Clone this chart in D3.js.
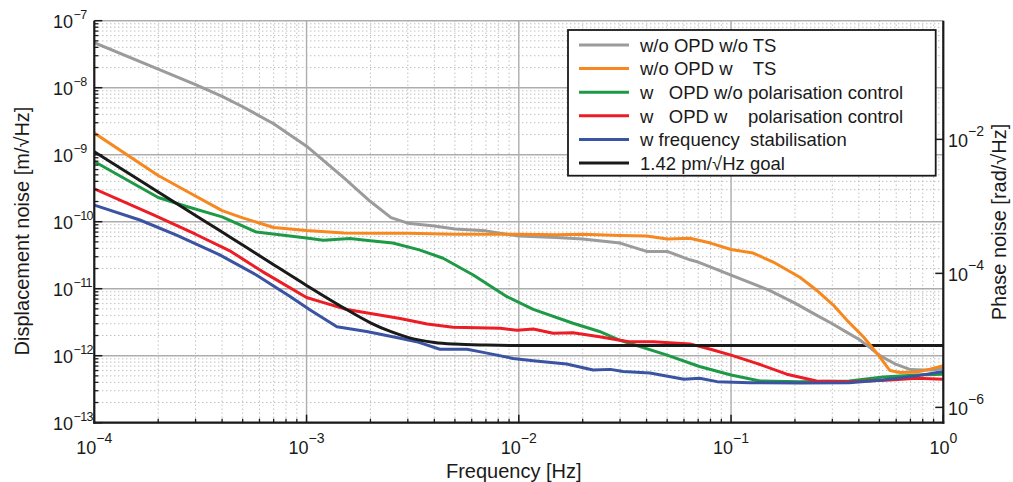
<!DOCTYPE html>
<html>
<head>
<meta charset="utf-8">
<script src="https://cdn.jsdelivr.net/npm/d3@7"></script>
<style>
  body { margin: 0; background: #fff; }
  text { font-family: "Liberation Sans", Arial, Helvetica, sans-serif; fill: #1a1a1a; }
</style>
</head>
<body>
<svg id="chart" width="1013" height="482"></svg>
<script>
// Displacement noise spectra [m/sqrt(Hz)] versus frequency [Hz]
const freqWoOpdWoTs = [1e-4, 2e-4, 3e-4, 4e-4, 5e-4, 7e-4, 1e-3, 1.5e-3, 2e-3, 2.5e-3, 3e-3, 4e-3, 5e-3, 7e-3, 1e-2, 1.5e-2, 2e-2, 3e-2, 4e-2, 5e-2, 6.4e-2, 7e-2, 0.1, 0.15, 0.2, 0.25, 0.3, 0.35, 0.4, 0.45, 0.5, 0.6, 0.7, 0.8, 0.9, 1];
const noiseWoOpdWoTs = [4.7e-8, 1.9e-8, 1.11e-8, 7.4e-9, 5.2e-9, 2.9e-9, 1.34e-9, 4.5e-10, 2.0e-10, 1.15e-10, 9.5e-11, 8.6e-11, 7.8e-11, 7.3e-11, 6.1e-11, 5.8e-11, 5.5e-11, 4.8e-11, 3.6e-11, 3.6e-11, 2.7e-11, 2.5e-11, 1.6e-11, 9.6e-12, 6.1e-12, 4.1e-12, 3.0e-12, 2.25e-12, 1.76e-12, 1.33e-12, 1.01e-12, 7.4e-13, 6.2e-13, 6.1e-13, 6.1e-13, 6.5e-13];

const freqWoOpdWTs = [1e-4, 2e-4, 2.7e-4, 4e-4, 5e-4, 7e-4, 1e-3, 1.5e-3, 2e-3, 3e-3, 5e-3, 1e-2, 1.5e-2, 2e-2, 3e-2, 4e-2, 5e-2, 6.4e-2, 8e-2, 0.1, 0.127, 0.158, 0.211, 0.253, 0.303, 0.351, 0.42, 0.486, 0.561, 0.625, 0.75, 0.866, 1];
const noiseWoOpdWTs = [2.1e-9, 4.9e-10, 2.9e-10, 1.46e-10, 1.14e-10, 8.2e-11, 7.4e-11, 6.8e-11, 6.7e-11, 6.7e-11, 6.5e-11, 6.5e-11, 6.4e-11, 6.5e-11, 6.2e-11, 6.1e-11, 5.5e-11, 5.65e-11, 4.8e-11, 3.85e-11, 3.4e-11, 2.5e-11, 1.48e-11, 9.5e-12, 5.7e-12, 3.4e-12, 1.92e-12, 1.09e-12, 6.0e-13, 5.6e-13, 5.7e-13, 6.3e-13, 7.1e-13];

const freqOpdWoPol = [1e-4, 2e-4, 2.7e-4, 4e-4, 5.8e-4, 7.8e-4, 1e-3, 1.2e-3, 1.6e-3, 2e-3, 2.55e-3, 3.4e-3, 4.4e-3, 6.1e-3, 8.8e-3, 1.17e-2, 1.8e-2, 2.4e-2, 3e-2, 5e-2, 7.1e-2, 0.1, 0.137, 0.21, 0.36, 0.52, 0.75, 1];
const noiseOpdWoPol = [7.9e-10, 2.3e-10, 1.7e-10, 1.18e-10, 7.0e-11, 6.3e-11, 5.7e-11, 5.3e-11, 5.6e-11, 5.2e-11, 4.8e-11, 3.8e-11, 2.85e-11, 1.6e-11, 7.6e-12, 4.9e-12, 3.05e-12, 2.3e-12, 1.7e-12, 1.02e-12, 6.9e-13, 5.15e-13, 4.2e-13, 4.1e-13, 4.2e-13, 4.8e-13, 5.15e-13, 5.3e-13];

const freqOpdWPol = [1e-4, 1.9e-4, 3e-4, 4.4e-4, 6.2e-4, 1e-3, 1.16e-3, 1.55e-3, 2.76e-3, 3.7e-3, 4.9e-3, 8.2e-3, 9.8e-3, 1.17e-2, 1.45e-2, 1.8e-2, 2.4e-2, 3.3e-2, 4.3e-2, 6.4e-2, 8e-2, 0.1, 0.132, 0.183, 0.253, 0.36, 0.56, 0.75, 1];
const noiseOpdWPol = [3.1e-10, 1.26e-10, 6.5e-11, 3.6e-11, 1.8e-11, 7.4e-12, 6.4e-12, 4.9e-12, 3.6e-12, 2.97e-12, 2.65e-12, 2.56e-12, 2.4e-12, 2.5e-12, 2.16e-12, 2.2e-12, 1.92e-12, 1.62e-12, 1.62e-12, 1.5e-12, 1.25e-12, 1.02e-12, 7.7e-13, 5.3e-13, 4.2e-13, 4.1e-13, 4.35e-13, 4.6e-13, 4.45e-13];

const freqFreqStab = [1e-4, 1.64e-4, 2.44e-4, 3.9e-4, 5.8e-4, 8.4e-4, 1.04e-3, 1.39e-3, 1.92e-3, 2.76e-3, 3.3e-3, 4.25e-3, 5.7e-3, 6.8e-3, 9.4e-3, 1.17e-2, 1.68e-2, 2.24e-2, 2.7e-2, 3.1e-2, 4.15e-2, 6e-2, 7.1e-2, 8.6e-2, 0.123, 0.21, 0.36, 0.52, 0.75, 1];
const noiseFreqStab = [1.77e-10, 1.06e-10, 6.3e-11, 3.2e-11, 1.6e-11, 7.6e-12, 4.8e-12, 2.7e-12, 2.3e-12, 1.82e-12, 1.62e-12, 1.25e-12, 1.25e-12, 1.12e-12, 9.1e-13, 8.4e-13, 7.5e-13, 6.1e-13, 6.25e-13, 5.8e-13, 5.5e-13, 4.45e-13, 4.6e-13, 4.1e-13, 3.95e-13, 3.9e-13, 3.95e-13, 4.35e-13, 5.0e-13, 5.8e-13];

const freqGoal = [1e-4, 1.5e-4, 2e-4, 3e-4, 4e-4, 5e-4, 7e-4, 1e-3, 1.5e-3, 2e-3, 2.5e-3, 3e-3, 4e-3, 5e-3, 7e-3, 1e-2, 1];
const noiseGoal = [1.11e-9, 4.95e-10, 2.78e-10, 1.24e-10, 7.0e-11, 4.5e-11, 2.28e-11, 1.12e-11, 5.15e-12, 3.1e-12, 2.28e-12, 1.88e-12, 1.58e-12, 1.49e-12, 1.44e-12, 1.42e-12, 1.42e-12];

const legendLabels = [
  "w/o OPD w/o TS",
  "w/o OPD w    TS",
  "w   OPD w/o polarisation control",
  "w   OPD w    polarisation control",
  "w frequency  stabilisation",
  "1.42 pm/\u221AHz goal"
];
const seriesColors = ["#9b9b9b", "#f7881f", "#1e9a47", "#ec1d25", "#3a53a3", "#1a1a1a"];

const freqTicks = [1e-4, 1e-3, 1e-2, 1e-1, 1];
const dispTicks = [1e-13, 1e-12, 1e-11, 1e-10, 1e-9, 1e-8, 1e-7];
const phaseTicks = [1e-6, 1e-4, 1e-2];
const laserWavelength = 1064e-9; // m, converts displacement to phase

// ---- layout ----
const pLeft = 94.3, pRight = 943.3, pTop = 20.7, pBottom = 422.7;
const svg = d3.select("#chart");

const x = d3.scaleLog().domain([1e-4, 1]).range([pLeft, pRight]);
const y = d3.scaleLog().domain([1e-13, 1e-7]).range([pBottom, pTop]);
const k = 2 * Math.PI / laserWavelength;
const yPhase = d3.scaleLog().domain([1e-13 * k, 1e-7 * k]).range([pBottom, pTop]);

function minorValues(lo, hi) {
  const out = [];
  for (let e = Math.round(Math.log10(lo)); e < Math.round(Math.log10(hi)); e++) {
    for (let m = 2; m <= 9; m++) out.push(m * Math.pow(10, e));
  }
  return out;
}
const xMinor = minorValues(1e-4, 1);
const yMinor = minorValues(1e-13, 1e-7);

// ---- grid ----
const grid = svg.append("g");
grid.selectAll(".vminor").data(xMinor).enter().append("line")
  .attr("x1", d => x(d)).attr("x2", d => x(d)).attr("y1", pTop).attr("y2", pBottom)
  .attr("stroke", "#a3a3a3").attr("stroke-width", 1).attr("stroke-dasharray", "1,3");
grid.selectAll(".hminor").data(yMinor).enter().append("line")
  .attr("x1", pLeft).attr("x2", pRight).attr("y1", d => y(d)).attr("y2", d => y(d))
  .attr("stroke", "#a3a3a3").attr("stroke-width", 1).attr("stroke-dasharray", "1,3");
grid.selectAll(".vmajor").data(freqTicks).enter().append("line")
  .attr("x1", d => x(d)).attr("x2", d => x(d)).attr("y1", pTop).attr("y2", pBottom)
  .attr("stroke", "#adadad").attr("stroke-width", 1.4);
grid.selectAll(".hmajor").data(dispTicks).enter().append("line")
  .attr("x1", pLeft).attr("x2", pRight).attr("y1", d => y(d)).attr("y2", d => y(d))
  .attr("stroke", "#adadad").attr("stroke-width", 1.4);

// ---- curves ----
svg.append("clipPath").attr("id", "plotClip").append("rect")
  .attr("x", pLeft).attr("y", pTop).attr("width", pRight - pLeft).attr("height", pBottom - pTop);

const zip = (f, v) => f.map((d, i) => [d, v[i]]);
const series = [
  zip(freqWoOpdWoTs, noiseWoOpdWoTs),
  zip(freqWoOpdWTs, noiseWoOpdWTs),
  zip(freqOpdWoPol, noiseOpdWoPol),
  zip(freqOpdWPol, noiseOpdWPol),
  zip(freqFreqStab, noiseFreqStab),
  zip(freqGoal, noiseGoal)
];
const lineGen = d3.line().x(d => x(d[0])).y(d => y(d[1]));
const smoothGen = d3.line().x(d => x(d[0])).y(d => y(d[1])).curve(d3.curveMonotoneX);

const drawOrder = [2, 3, 4, 5, 0, 1];
const curves = svg.append("g").attr("clip-path", "url(#plotClip)");
drawOrder.forEach(i => {
  curves.append("path")
    .attr("d", (i === 5 ? smoothGen : lineGen)(series[i]))
    .attr("fill", "none")
    .attr("stroke", seriesColors[i])
    .attr("stroke-width", 3)
    .attr("stroke-linejoin", "round")
    .attr("stroke-linecap", "round");
});

// ---- axes ----
const axes = svg.append("g").attr("stroke", "#1a1a1a");
axes.append("line").attr("x1", pLeft).attr("x2", pLeft).attr("y1", pTop).attr("y2", pBottom + 1).attr("stroke-width", 2.2);
axes.append("line").attr("x1", pLeft - 1).attr("x2", pRight + 1).attr("y1", pBottom).attr("y2", pBottom).attr("stroke-width", 2.2);
axes.append("line").attr("x1", pRight).attr("x2", pRight).attr("y1", pTop).attr("y2", pBottom + 1).attr("stroke-width", 2.2);

// left ticks (inward)
axes.selectAll(".ly").data(dispTicks).enter().append("line")
  .attr("x1", pLeft).attr("x2", pLeft + 8).attr("y1", d => y(d)).attr("y2", d => y(d)).attr("stroke-width", 1.5);
axes.selectAll(".lym").data(yMinor).enter().append("line")
  .attr("x1", pLeft).attr("x2", pLeft + 4).attr("y1", d => y(d)).attr("y2", d => y(d)).attr("stroke-width", 1.3);
// bottom ticks (inward)
axes.selectAll(".bx").data(freqTicks).enter().append("line")
  .attr("x1", d => x(d)).attr("x2", d => x(d)).attr("y1", pBottom).attr("y2", pBottom - 8).attr("stroke-width", 1.5);
axes.selectAll(".bxm").data(xMinor).enter().append("line")
  .attr("x1", d => x(d)).attr("x2", d => x(d)).attr("y1", pBottom).attr("y2", pBottom - 4).attr("stroke-width", 1.3);
// right ticks (inward)
axes.selectAll(".ry").data(phaseTicks).enter().append("line")
  .attr("x1", pRight).attr("x2", pRight - 8).attr("y1", d => yPhase(d)).attr("y2", d => yPhase(d)).attr("stroke-width", 1.5);

const supText = v => {
  const e = Math.round(Math.log10(v));
  return e < 0 ? "\u2212" + (-e) : String(e);
};

// left labels: "10" right-aligned, exponent following
const labels = svg.append("g");
dispTicks.forEach(v => {
  labels.append("text").attr("x", 73).attr("y", y(v) + 7.5)
    .attr("text-anchor", "end").attr("font-size", 18).text("10");
  labels.append("text").attr("x", 73.5).attr("y", y(v) - 1.5)
    .attr("font-size", 12.5).attr("letter-spacing", -0.6).text(supText(v));
});
// bottom labels
freqTicks.forEach(v => {
  const t = labels.append("text").attr("x", x(v)).attr("y", 453.5)
    .attr("text-anchor", "middle").attr("font-size", 18);
  t.append("tspan").text("10");
  t.append("tspan").attr("font-size", 14).attr("dy", -11).text(supText(v));
});
// right labels
phaseTicks.forEach(v => {
  const t = labels.append("text").attr("x", 948).attr("y", yPhase(v) + 7.5)
    .attr("font-size", 18);
  t.append("tspan").text("10");
  t.append("tspan").attr("font-size", 14).attr("dy", -11).text(supText(v));
});

// axis titles
labels.append("text").attr("x", (pLeft + pRight) / 2 - 5).attr("y", 477.5)
  .attr("text-anchor", "middle").attr("font-size", 20).text("Frequency [Hz]");
labels.append("text").attr("transform", "translate(28.5,231) rotate(-90)")
  .attr("text-anchor", "middle").attr("font-size", 20).text("Displacement noise [m/\u221AHz]");
labels.append("text").attr("transform", "translate(1006,222) rotate(-90)")
  .attr("text-anchor", "middle").attr("font-size", 20).text("Phase noise [rad/\u221AHz]");

// ---- legend ----
const legend = svg.append("g");
legend.append("rect").attr("x", 568).attr("y", 30).attr("width", 367.7).attr("height", 145.7)
  .attr("fill", "#fff").attr("stroke", "#1a1a1a").attr("stroke-width", 1.8);
legendLabels.forEach((label, i) => {
  const ly = 45 + i * 23.6;
  legend.append("line").attr("x1", 579).attr("x2", 629).attr("y1", ly).attr("y2", ly)
    .attr("stroke", seriesColors[i]).attr("stroke-width", 3);
  legend.append("text").attr("x", 640).attr("y", ly + 6.7).attr("font-size", 18.5)
    .style("white-space", "pre").attr("xml:space", "preserve").text(label);
});
</script>
</body>
</html>
